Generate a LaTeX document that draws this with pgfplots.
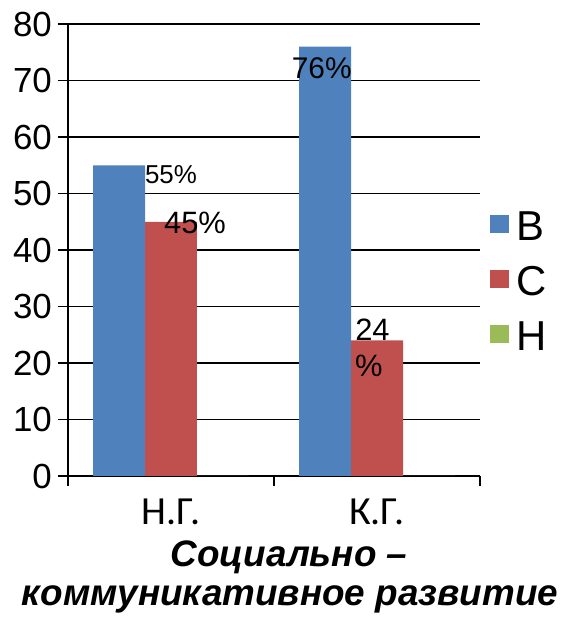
\documentclass[border=0pt]{standalone}
\usepackage{pgfplots}
\pgfplotsset{compat=1.18}
\usepackage{fontspec}
\setmainfont{Liberation Sans}
\newfontfamily\carlito{Carlito}
\definecolor{cB}{HTML}{4F81BD}
\definecolor{cC}{HTML}{C0504D}
\definecolor{cH}{HTML}{9BBB59}
\newcommand{\sq}[1]{\textcolor{#1}{\rule[7bp]{19bp}{18bp}}\hspace{7bp}}
\begin{document}
\begin{tikzpicture}
\path (0,0) rectangle (563bp,620bp);
\begin{axis}[
  at={(68bp,144bp)}, anchor=south west,
  scale only axis, width=412bp, height=452bp,
  xmin=-0.5, xmax=1.5, ymin=0, ymax=80,
  axis x line*=bottom, axis y line*=left,
  axis line style={black, line width=1.8bp},
  xtick={-0.5,0.5,1.5}, xticklabels={},
  ytick={0,10,...,80},
  ymajorgrids=true,
  major grid style={solid, draw=black, line width=1.8bp},
  tick style={black, line width=1.5bp},
  tick align=outside, major tick length=10bp,
  /pgf/number format/assume math mode=true,
  yticklabel style={font=\fontsize{35}{35}\selectfont, inner sep=0pt, xshift=-6bp},
  clip=false,
  legend style={draw=none, fill=none, inner sep=0pt,
    at={(1,0.5885)}, anchor=north west, xshift=10bp,
    font=\fontsize{42}{42}\selectfont,
    row sep=25bp, column sep=0bp,
    nodes={inner sep=0pt, text height=30bp, text depth=0bp}},
  legend cell align=left,
]
\addplot[ybar, bar width=0.2524, bar shift=-0.2524, fill=cB, draw=none,
  legend image code/.code={}]
  coordinates {(0,55) (1,76)};
\addplot[ybar, bar width=0.2524, bar shift=0, fill=cC, draw=none,
  legend image code/.code={}]
  coordinates {(0,45) (1,24)};
\addplot[ybar, bar width=0.2524, bar shift=0.2524, fill=cH, draw=none,
  legend image code/.code={}]
  coordinates {(0,0) (1,0)};
\legend{\sq{cB}В,\sq{cC}С,\sq{cH}Н}
\node[anchor=base, inner sep=0pt, font=\fontsize{26}{26}\selectfont] at (axis cs:0,51.8) {55\%};
\node[anchor=base, inner sep=0pt, font=\fontsize{31}{31}\selectfont] at (axis cs:0.1165,42.96) {45\%};
\node[anchor=base, inner sep=0pt, font=\fontsize{30}{30}\selectfont] at (axis cs:0.7316,70.4) {76\%};
\node[anchor=base, inner sep=0pt, font=\fontsize{31}{31}\selectfont] at (axis cs:0.978,24.07) {24};
\node[anchor=base, inner sep=0pt, font=\fontsize{31}{31}\selectfont] at (axis cs:0.960,17.6) {\%};
\node[anchor=base, inner sep=0pt, font=\carlito\fontsize{40}{40}\selectfont] at (axis cs:0,-8.5) {Н.Г.};
\node[anchor=base, inner sep=0pt, font=\carlito\fontsize{40}{40}\selectfont] at (axis cs:1,-8.5) {К.Г.};
\end{axis}
\node[anchor=base, inner sep=0pt, font=\bfseries\itshape\fontsize{37}{37}\selectfont] at (289bp,53bp) {Социально –};
\node[anchor=base, inner sep=0pt, font=\bfseries\itshape\fontsize{37}{37}\selectfont] at (290bp,15bp) {коммуникативное развитие};
\end{tikzpicture}
\end{document}
